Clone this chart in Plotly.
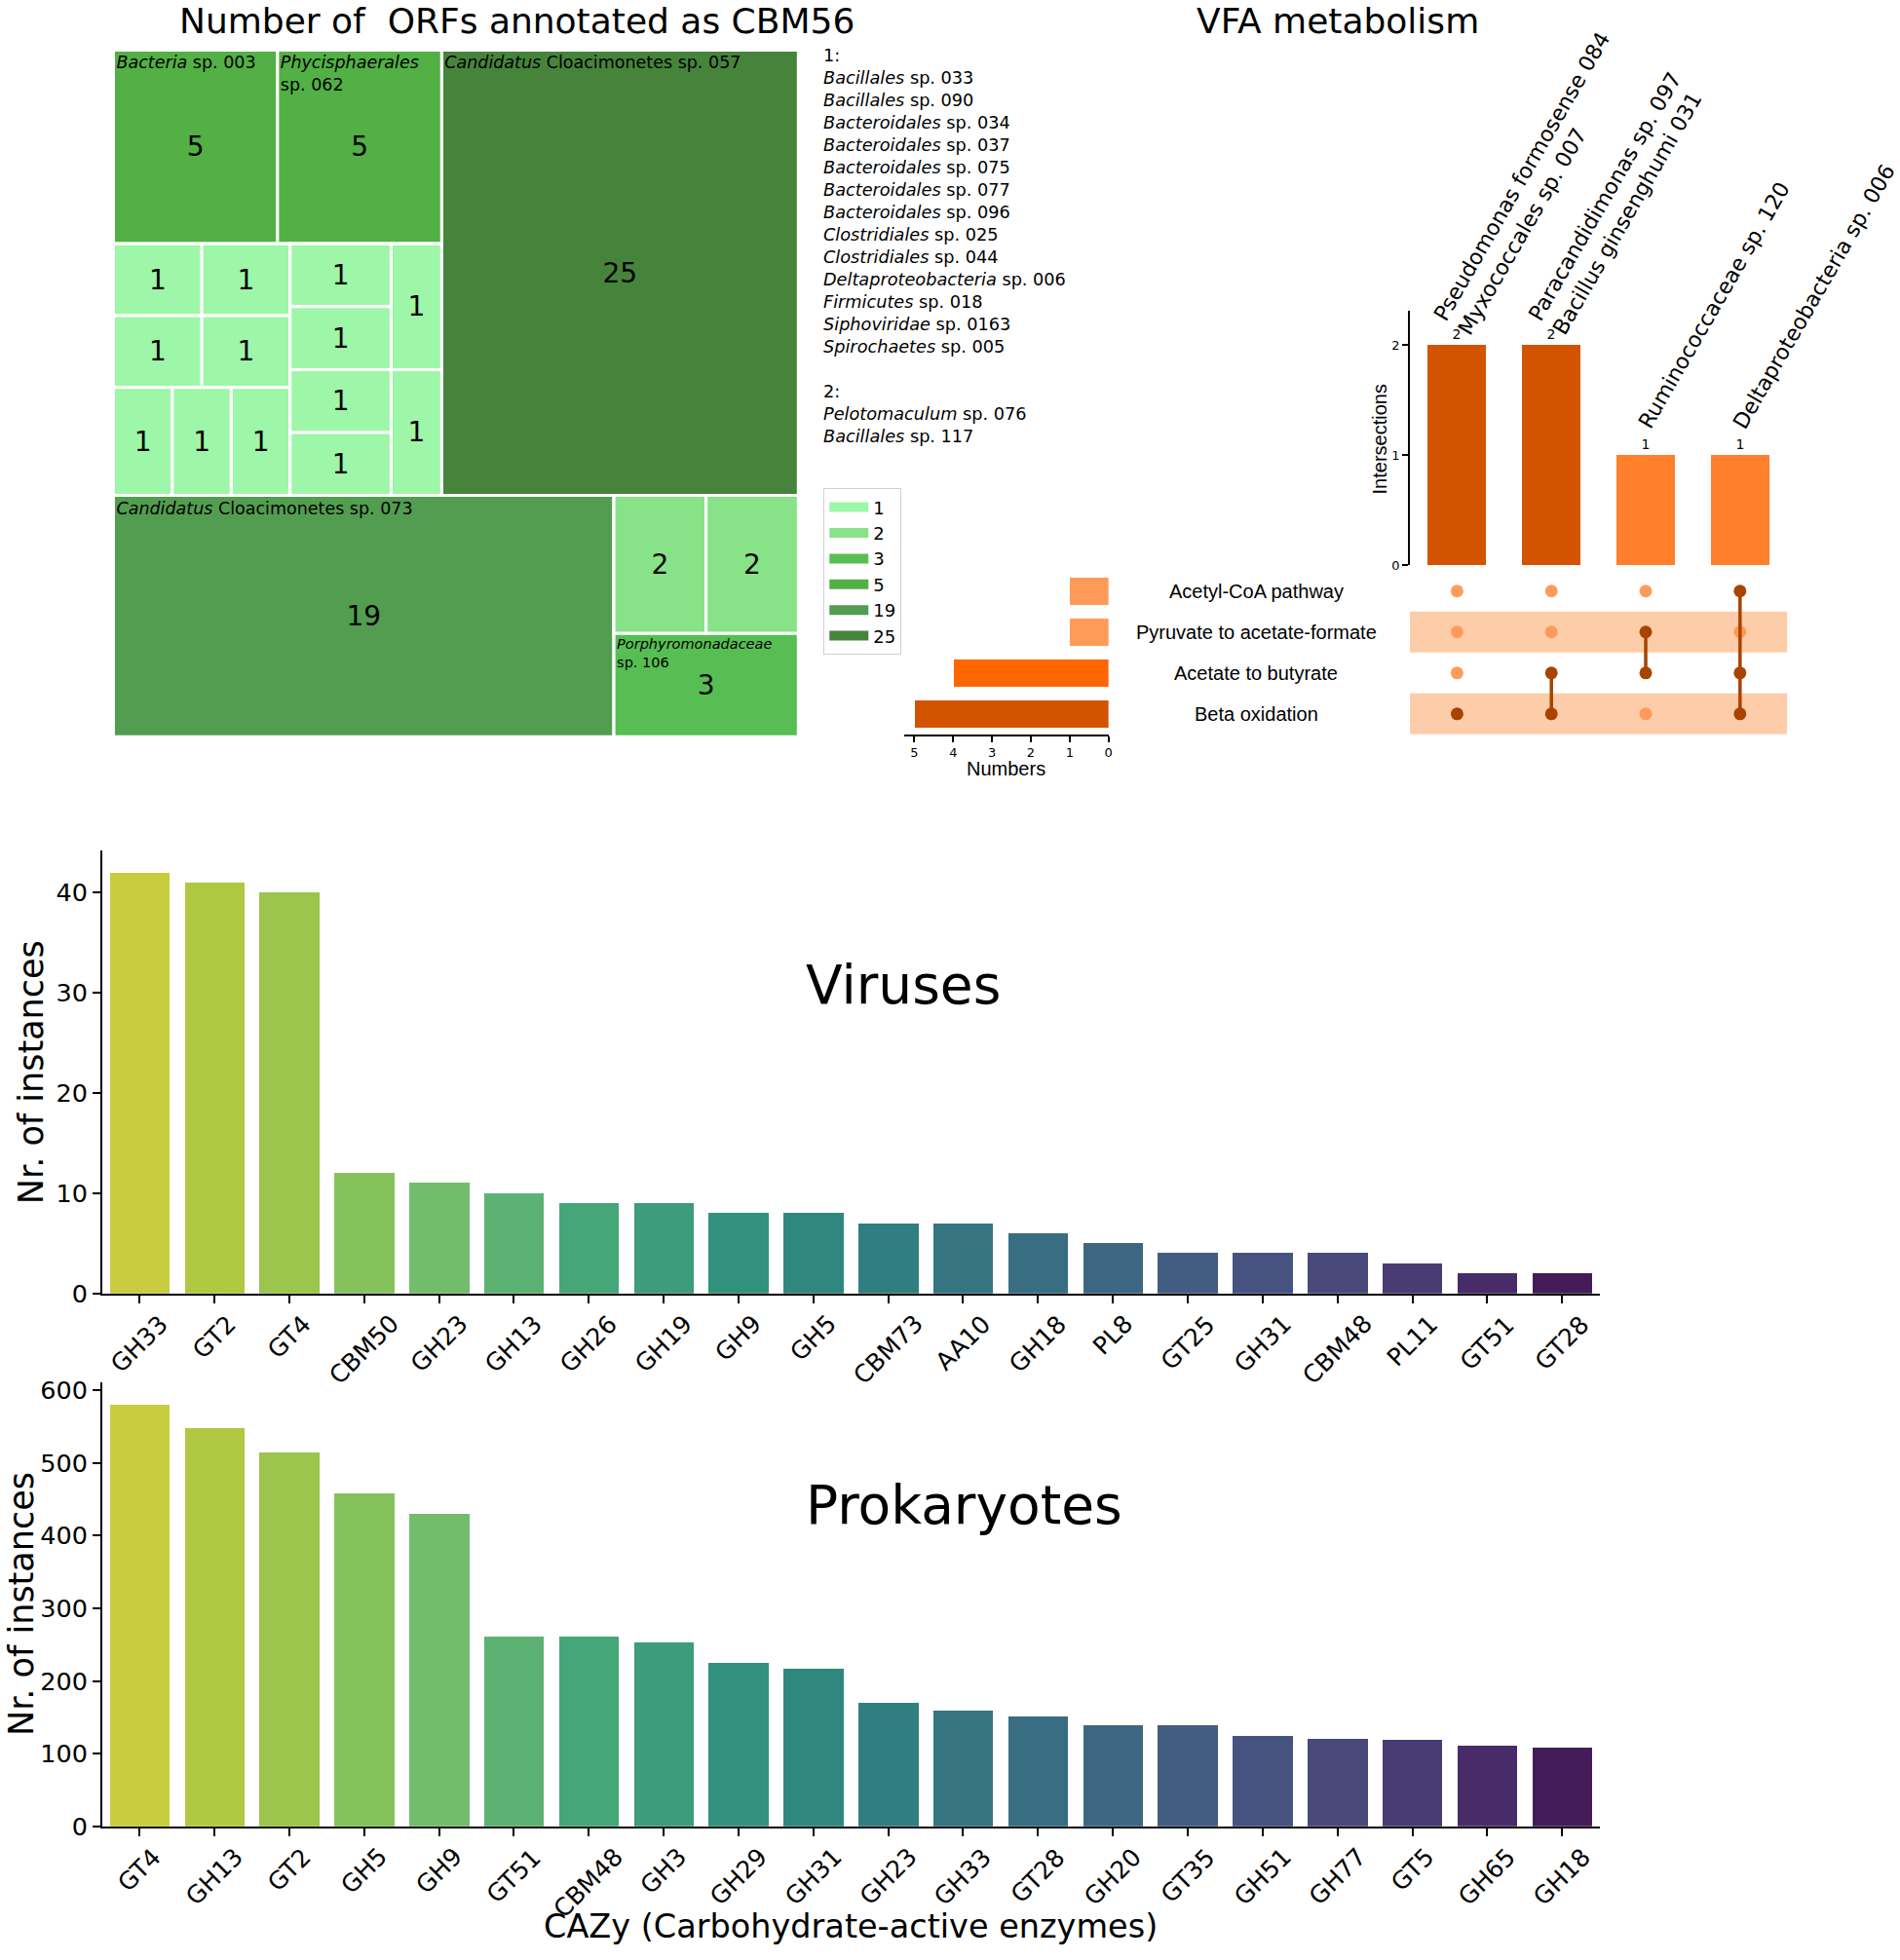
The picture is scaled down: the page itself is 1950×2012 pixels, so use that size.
import colorsys
import plotly.graph_objects as go
from plotly.colors import sample_colorscale, unlabel_rgb

W, H = 1950, 2012
FONT = "DejaVu Sans"
ARIAL = "Liberation Sans"

# ------------------------------------------------------------------ data
# Treemap: number of ORFs annotated as CBM56 per genome
tm_species = [
    "Bacteria sp. 003", "Phycisphaerales sp. 062", "Candidatus Cloacimonetes sp. 057",
    "Bacillales sp. 033", "Bacillales sp. 090", "Bacteroidales sp. 034",
    "Bacteroidales sp. 037", "Bacteroidales sp. 075", "Bacteroidales sp. 077",
    "Bacteroidales sp. 096", "Clostridiales sp. 025", "Clostridiales sp. 044",
    "Deltaproteobacteria sp. 006", "Firmicutes sp. 018", "Siphoviridae sp. 0163",
    "Spirochaetes sp. 005", "Candidatus Cloacimonetes sp. 073", "Pelotomaculum sp. 076",
    "Bacillales sp. 117", "Porphyromonadaceae sp. 106",
]
tm_values = [5, 5, 25, 1, 1, 1, 1, 1, 1, 1, 1, 1, 1, 1, 1, 1, 19, 2, 2, 3]
tm_tile_labels = [
    "<i>Bacteria</i> sp. 003", "<i>Phycisphaerales</i><br>sp. 062",
    "<i>Candidatus</i> Cloacimonetes sp. 057",
    "", "", "", "", "", "", "", "", "", "", "", "", "",
    "<i>Candidatus</i> Cloacimonetes sp. 073", "", "",
    "<i>Porphyromonadaceae</i><br>sp. 106",
]
# grouping of the tiles (nested blocks), leaves are indices into tm_species
tm_blocks = ("root", [
    ("band_top", [
        ("blk_a", [
            ("grp_fives", [0, 1]),
            ("grp_ones", [
                ("ones_left", [("row_a", [3, 4]), ("row_b", [5, 6]), ("row_c", [7, 8, 9])]),
                ("ones_right", [("ones_right_in", [("col_a", [10, 11, 12, 13]),
                                                    ("col_b", [14, 15])])]),
            ]),
        ]),
        2,
    ]),
    ("band_bottom", [16, ("blk_b", [("grp_twos", [17, 18]), 19])]),
])

# UpSet: VFA metabolism
vfa_sets = ["Acetyl-CoA pathway", "Pyruvate to acetate-formate", "Acetate to butyrate", "Beta oxidation"]
vfa_set_sizes = [1, 1, 4, 5]
vfa_groups = [
    "Pseudomonas formosense 084<br>Myxococcales sp. 007",
    "Paracandidimonas sp. 097<br>Bacillus ginsenghumi 031",
    "Ruminococcaceae sp. 120",
    "Deltaproteobacteria sp. 006",
]
vfa_counts = [2, 2, 1, 1]
# membership[set][group]
vfa_members = [
    [0, 0, 0, 1],
    [0, 0, 1, 0],
    [0, 1, 1, 1],
    [1, 1, 0, 1],
]

# CAZy bar charts
vir_cats = ["GH33", "GT2", "GT4", "CBM50", "GH23", "GH13", "GH26", "GH19", "GH9", "GH5",
            "CBM73", "AA10", "GH18", "PL8", "GT25", "GH31", "CBM48", "PL11", "GT51", "GT28"]
vir_vals = [42, 41, 40, 12, 11, 10, 9, 9, 8, 8, 7, 7, 6, 5, 4, 4, 4, 3, 2, 2]
pro_cats = ["GT4", "GH13", "GT2", "GH5", "GH9", "GT51", "CBM48", "GH3", "GH29", "GH31",
            "GH23", "GH33", "GT28", "GH20", "GT35", "GH51", "GH77", "GT5", "GH65", "GH18"]
pro_vals = [581, 549, 515, 459, 431, 262, 261, 254, 225, 217,
            171, 160, 151, 140, 139, 125, 121, 120, 111, 109]

# ------------------------------------------------------------------ styles
green_for = {1: "#9ef6a8", 2: "#88e388", 3: "#57be54", 5: "#52b045", 19: "#539d50", 25: "#46843b"}
inter_color = {2: "#d35400", 1: "#ff7f2a"}
setsize_color = {1: "#ff9b57", 4: "#ff6600", 5: "#d35400"}
DOT_ON, DOT_OFF, BAND = "#a84300", "#ff9b5a", "#fdcca8"

# page placement: vertical pixel positions are given in target-picture pixels and mapped
# to figure pixels (the captured page comes out slightly squeezed vertically)
Y_SCALE, Y_OFF = 0.989, 6.9


def Y(v):
    return (v - Y_OFF) / Y_SCALE


def dxp(a, b):
    return [a / W, b / W]


def dyp(top, bottom):
    return [1 - Y(bottom) / H, 1 - Y(top) / H]


def viridis_r_desat(n, sat=0.75):
    pos = [(n - i) / (n + 1) for i in range(n)]
    out = []
    for c in sample_colorscale("Viridis", pos):
        r, g, b = [v / 255 for v in unlabel_rgb(c)]
        h, l, s = colorsys.rgb_to_hls(r, g, b)
        r, g, b = colorsys.hls_to_rgb(h, l, s * sat)
        out.append("rgb(%d,%d,%d)" % (round(r * 255), round(g * 255), round(b * 255)))
    return out


fig = go.Figure()

# ------------------------------------------------------------------ treemap
ids, parents, vals, cols, num_txt, lab_txt, lab_size = [], [], [], [], [], [], []


def walk(node, parent):
    if isinstance(node, int):
        ids.append(tm_species[node])
        parents.append(parent)
        vals.append(tm_values[node])
        cols.append(green_for[tm_values[node]])
        num_txt.append(str(tm_values[node]))
        lab_txt.append(tm_tile_labels[node])
        lab_size.append(14.5 if "Porphyro" in tm_species[node] else 17.5)
    else:
        gid, children = node
        ids.append(gid)
        parents.append(parent)
        vals.append(0)
        cols.append("white")
        num_txt.append("")
        lab_txt.append("")
        lab_size.append(17.5)
        for ch in children:
            walk(ch, gid)


walk(tm_blocks, "")
tm_domain = dict(x=dxp(116.7, 821), y=dyp(52.3, 756.7))

fig.add_trace(go.Treemap(
    ids=ids, labels=ids, parents=parents, values=vals, branchvalues="remainder",
    sort=False, tiling=dict(packing="dice-slice", pad=0),
    marker=dict(colors=cols, line=dict(color="white", width=3), pad=dict(t=0, l=0, r=0, b=0)),
    text=num_txt, texttemplate="%{text}", textposition="middle center",
    textfont=dict(family=FONT, size=28, color="black"),
    pathbar=dict(visible=False), root=dict(color="white"),
    hoverinfo="skip", domain=tm_domain,
))
fig.add_trace(go.Treemap(
    ids=ids, labels=ids, parents=parents, values=vals, branchvalues="remainder",
    sort=False, tiling=dict(packing="dice-slice", pad=0),
    marker=dict(colors=["rgba(0,0,0,0)"] * len(ids), line=dict(color="rgba(0,0,0,0)", width=0),
                pad=dict(t=0, l=0, r=0, b=0)),
    text=lab_txt, texttemplate="%{text}", textposition="top left",
    textfont=dict(family=FONT, size=lab_size, color="black"),
    pathbar=dict(visible=False), root=dict(color="rgba(0,0,0,0)"),
    hoverinfo="skip", domain=tm_domain,
))

# legend entries for treemap colours
for lv in sorted(set(tm_values)):
    fig.add_trace(go.Scatter(x=[None], y=[None], mode="lines", name=str(lv),
                             line=dict(color=green_for[lv], width=14),
                             xaxis="x4", yaxis="y4", showlegend=True))


def ital(name):
    first, rest = name.split(" ", 1)
    return "<i>%s</i> %s" % (first, rest)


list_lines = ["1:"] + [ital(s) for s, v in zip(tm_species, tm_values) if v == 1]
list_lines += ["", "2:"] + [ital(s) for s, v in zip(tm_species, tm_values) if v == 2]

# ------------------------------------------------------------------ bar charts
fig.add_trace(go.Bar(x=vir_cats, y=vir_vals, marker=dict(color=viridis_r_desat(len(vir_vals)), line=dict(width=0)),
                     width=0.8, xaxis="x", yaxis="y", showlegend=False, hoverinfo="skip"))
fig.add_trace(go.Bar(x=pro_cats, y=pro_vals, marker=dict(color=viridis_r_desat(len(pro_vals)), line=dict(width=0)),
                     width=0.8, xaxis="x2", yaxis="y2", showlegend=False, hoverinfo="skip"))

# ------------------------------------------------------------------ upset
gx = list(range(len(vfa_groups)))
fig.add_trace(go.Bar(x=gx, y=vfa_counts, width=0.62,
                     marker=dict(color=[inter_color[c] for c in vfa_counts], line=dict(width=0)),
                     text=[str(c) for c in vfa_counts], textposition="outside",
                     textfont=dict(family=FONT, size=14, color="black"), cliponaxis=False,
                     xaxis="x3", yaxis="y3", showlegend=False, hoverinfo="skip"))

off_x, off_y, on_x, on_y = [], [], [], []
for si in range(len(vfa_sets)):
    for gi in range(len(vfa_groups)):
        if vfa_members[si][gi]:
            on_x.append(gi); on_y.append(si)
        else:
            off_x.append(gi); off_y.append(si)
fig.add_trace(go.Scatter(x=off_x, y=off_y, mode="markers", marker=dict(color=DOT_OFF, size=13),
                         xaxis="x4", yaxis="y4", showlegend=False, hoverinfo="skip"))
for gi in range(len(vfa_groups)):
    rows = [si for si in range(len(vfa_sets)) if vfa_members[si][gi]]
    if len(rows) > 1:
        fig.add_trace(go.Scatter(x=[gi, gi], y=[min(rows), max(rows)], mode="lines",
                                 line=dict(color=DOT_ON, width=3.5),
                                 xaxis="x4", yaxis="y4", showlegend=False, hoverinfo="skip"))
fig.add_trace(go.Scatter(x=on_x, y=on_y, mode="markers", marker=dict(color=DOT_ON, size=13),
                         xaxis="x4", yaxis="y4", showlegend=False, hoverinfo="skip"))

fig.add_trace(go.Bar(x=vfa_set_sizes, y=list(range(len(vfa_sets))), orientation="h", width=0.65,
                     marker=dict(color=[setsize_color[s] for s in vfa_set_sizes], line=dict(width=0)),
                     xaxis="x5", yaxis="y5", showlegend=False, hoverinfo="skip"))

shapes = []
for si in range(len(vfa_sets)):
    if si % 2 == 1:
        shapes.append(dict(type="rect", xref="x4", yref="y4", x0=-0.5, x1=len(vfa_groups) - 0.5,
                           y0=si - 0.5, y1=si + 0.5, fillcolor=BAND, line=dict(width=0), layer="below"))


# ------------------------------------------------------------------ annotations
def paper_text(text, x, y, size, family=FONT, angle=0, xa="center", ya="middle", align="center",
               clamp=None):
    yy = Y(y) if clamp is None else min(Y(y), clamp)
    return dict(text=text, x=x / W, y=1 - yy / H, xref="paper", yref="paper", showarrow=False,
                textangle=angle, xanchor=xa, yanchor=ya, align=align,
                font=dict(family=family, size=size))


ann = []
ann.append(paper_text("Number of&nbsp; ORFs annotated as CBM56", 532, 22, 36))
ann.append(paper_text("VFA metabolism", 1376, 22, 36))
ann.append(paper_text("<br>".join(list_lines), 845, 46, 17.7, xa="left", ya="top", align="left"))

for gi, lab in enumerate(vfa_groups):
    nl = lab.count("<br>")
    ann.append(dict(text=lab, x=gi, y=vfa_counts[gi], xref="x3", yref="y3", showarrow=False,
                    textangle=-60, align="left", xanchor="left", yanchor="bottom",
                    xshift=-15 - 16 * nl, yshift=20 - 17 * nl, font=dict(family=FONT, size=22)))
for si, name in enumerate(vfa_sets):
    ann.append(dict(text=name, x=1292 / W, y=si, xref="paper", yref="y4", showarrow=False,
                    xanchor="center", yanchor="middle", font=dict(family=ARIAL, size=20)))
ann.append(paper_text("Intersections", 1419, 452, 20, family=ARIAL, angle=-90))
ann.append(paper_text("Numbers", 1035, 789.5, 20, family=ARIAL))

for cats, xr, yr in ((vir_cats, "x", "y"), (pro_cats, "x2", "y2")):
    for c in cats:
        ann.append(dict(text=c, x=c, y=0, xref=xr, yref=yr, showarrow=False, textangle=-45,
                        xanchor="center", yanchor="top", yshift=-14, font=dict(family=FONT, size=25)))

ann.append(paper_text("Viruses", 827, 1011, 55, xa="left"))
ann.append(paper_text("Prokaryotes", 827, 1545, 55, xa="left"))
ann.append(paper_text("Nr. of instances", 31.5, 1101, 35, angle=-90))
ann.append(paper_text("Nr. of instances", 22, 1646, 35, angle=-90))
ann.append(paper_text("CAZy (Carbohydrate-active enzymes)", 875, 1988, 33.5, clamp=H - 20))

# ------------------------------------------------------------------ axes
line_ax = dict(showline=True, linecolor="black", linewidth=1.6, ticks="outside", tickcolor="black",
               tickwidth=1.5, showgrid=False, zeroline=False)
hidden = dict(visible=False, showgrid=False, zeroline=False)

fig.update_layout(
    width=W, height=H, margin=dict(l=0, r=0, t=0, b=0),
    paper_bgcolor="white", plot_bgcolor="white",
    font=dict(family=FONT, color="black"),
    xaxis=dict(domain=dxp(105, 1645), anchor="y", range=[-0.5, 19.5], showticklabels=False,
               ticklen=8, **line_ax),
    yaxis=dict(domain=dyp(873.6, 1327.9), anchor="x", range=[0, 44.2], dtick=10, ticklen=8,
               tickfont=dict(size=25.5), **line_ax),
    xaxis2=dict(domain=dxp(105, 1645), anchor="y2", range=[-0.5, 19.5], showticklabels=False,
                ticklen=8, **line_ax),
    yaxis2=dict(domain=dyp(1418.75, 1874.6), anchor="x2", range=[0, 611.5], dtick=100, ticklen=8,
                tickfont=dict(size=25.5), **line_ax),
    xaxis3=dict(domain=dxp(1450, 1838), anchor="y3", range=[-0.5, 3.5], **hidden),
    yaxis3=dict(domain=dyp(319.7, 580.7), anchor="x3", range=[0, 2.31], tickvals=[0, 1, 2], ticklen=6,
                tickfont=dict(size=13), **line_ax),
    xaxis4=dict(domain=dxp(1450, 1838), anchor="y4", range=[-0.5, 3.5], **hidden),
    yaxis4=dict(domain=dyp(586.3, 754.3), anchor="x4", range=[3.5, -0.5], **hidden),
    xaxis5=dict(domain=dxp(929.6, 1140), anchor="y5", range=[5.27, 0], tickvals=[0, 1, 2, 3, 4, 5],
                ticklen=6, tickfont=dict(size=13), **line_ax),
    yaxis5=dict(domain=dyp(586.3, 754.3), anchor="x5", range=[3.5, -0.5], **hidden),
    legend=dict(x=847 / W, y=1 - Y(502) / H, xanchor="left", yanchor="top", bgcolor="white",
                bordercolor="#d0d0d0", borderwidth=1, font=dict(family=FONT, size=18),
                itemwidth=40, tracegroupgap=0),
    shapes=shapes, annotations=ann, bargap=0,
)

post = (
    "document.documentElement.style.overflow='hidden';"
    "document.body.style.overflow='hidden';"
    "document.body.style.margin='0px';"
)
fig.write_html("out.html", config={"displayModeBar": False}, post_script=post)
